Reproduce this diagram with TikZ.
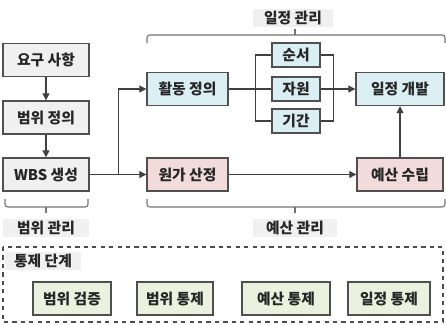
\documentclass[tikz,border=0pt]{standalone}
\usepackage{fontspec}
\setmainfont{Noto Sans CJK KR}
\usetikzlibrary{arrows.meta}
\definecolor{boxline}{HTML}{505050}
\definecolor{grayfill}{HTML}{F0F0F0}
\definecolor{bluefill}{HTML}{DAEEF3}
\definecolor{redfill}{HTML}{F2DCDB}
\definecolor{greenfill}{HTML}{EBF1DE}
\definecolor{tagfill}{HTML}{F0F0F0}
\tikzset{
  stepnode/.style={draw=boxline, line width=1pt, text=black!85, font=\fontsize{10.5}{12}\selectfont\bfseries, inner sep=0pt},
  graybox/.style={stepnode, fill=grayfill, minimum width=86*0.025cm, minimum height=33*0.025cm},
  bluebox/.style={stepnode, fill=bluefill},
  redbox/.style={stepnode, fill=redfill},
  greenbox/.style={stepnode, fill=greenfill, minimum height=33*0.025cm},
  tag/.style={fill=tagfill, text=black!85, font=\fontsize{10.5}{12}\selectfont\bfseries, inner sep=0pt, minimum height=18*0.025cm},
  brace/.style={draw=black!55, line width=0.8pt, rounded corners=2pt},
  link/.style={draw=black!75, line width=0.8pt},
  >={Triangle[length=5pt,width=5pt]}
}
\begin{document}
\begin{tikzpicture}[x=0.025cm, y=-0.025cm]
        \useasboundingbox (0,0) rectangle (446,324);

        %scope
        \node[graybox] (req) at (46, 60) {요구 사항};
        \node[graybox] (scope) at (46, 117.5) {범위 정의};
        \node[graybox] (wbs) at (46, 174.5) {WBS 생성};

        %schedule
        \node[bluebox, minimum width=81*0.025cm, minimum height=33*0.025cm] (act) at (187.5, 89) {활동 정의};
        \node[bluebox, minimum width=48*0.025cm, minimum height=24*0.025cm] (seq) at (296, 55) {순서};
        \node[bluebox, minimum width=48*0.025cm, minimum height=24*0.025cm] (res) at (296, 89) {자원};
        \node[bluebox, minimum width=48*0.025cm, minimum height=24*0.025cm] (dur) at (296, 121) {기간};
        \node[bluebox, minimum width=88*0.025cm, minimum height=33*0.025cm] (sched) at (400, 89) {일정 개발};

        %budget
        \node[redbox, minimum width=81*0.025cm, minimum height=33*0.025cm] (cost) at (187.5, 174.5) {원가 산정};
        \node[redbox, minimum width=86*0.025cm, minimum height=33*0.025cm] (budget) at (400, 174.5) {예산 수립};

        \draw[link, ->] (req) -- (scope);
        \draw[link, ->] (scope) -- (wbs);
        \draw[link, ->] (wbs.east) -- ++(29,0) |- (act.west);
        \draw[link, ->] (wbs) -- (cost);
        \draw[link] (act) -- (res);
        \draw[link] (seq.west) -- ++(-16,0) |- (dur.west);
        \draw[link] (seq.east) -- ++(13,0) |- (dur.east);
        \draw[link, ->] (res) -- (sched);
        \draw[link, ->] (cost) -- (budget);
        \draw[link, ->] (budget) -- (sched);

        %braces
        \draw[brace] (147, 43) -- (147, 35) -- (445, 35) -- (445, 43);
        \draw[brace] (295, 35) -- (295, 29);
        \draw[brace] (147, 199) -- (147, 207) -- (445, 207) -- (445, 199);
        \draw[brace] (295, 207) -- (295, 213);
        \draw[brace] (5, 199) -- (5, 207) -- (88, 207) -- (88, 199);
        \draw[brace] (46, 207) -- (46, 213);
        \node[tag, minimum width=80*0.025cm] (schedtag) at (293, 18) {일정 관리};
        \node[tag, minimum width=84*0.025cm] (budgettag) at (295, 228) {예산 관리};
        \node[tag, minimum width=86*0.025cm] (scopetag) at (46, 228) {범위 관리};

        %control
        \draw[draw=black!70, line width=0.8pt, dashed] (3, 247) rectangle (443, 322);
        \node[tag, minimum width=76*0.025cm] (ctrltag) at (43, 261) {통제 단계};
        \node[greenbox, minimum width=78*0.025cm] (verify) at (72, 298.5) {범위 검증};
        \node[greenbox, minimum width=76*0.025cm] (scopectrl) at (175, 298.5) {범위 통제};
        \node[greenbox, minimum width=88*0.025cm] (costctrl) at (286, 298.5) {예산 통제};
        \node[greenbox, minimum width=82*0.025cm] (schedctrl) at (389, 298.5) {일정 통제};
    \end{tikzpicture}
\end{document}
